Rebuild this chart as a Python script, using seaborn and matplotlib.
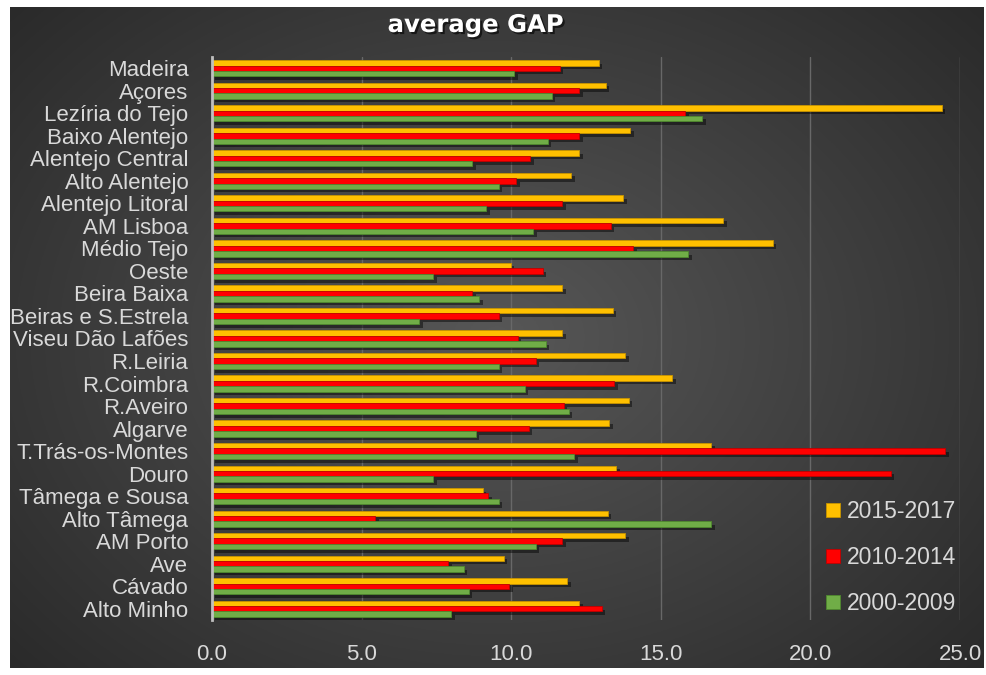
import numpy as np
import pandas as pd
import matplotlib
matplotlib.use("Agg")
import matplotlib.pyplot as plt
import matplotlib.patheffects as pe
from matplotlib.patches import Patch
import seaborn as sns

regions = ["Madeira", "Açores", "Lezíria do Tejo", "Baixo Alentejo", "Alentejo Central",
           "Alto Alentejo", "Alentejo Litoral", "AM Lisboa", "Médio Tejo", "Oeste",
           "Beira Baixa", "Beiras e S.Estrela", "Viseu Dão Lafões", "R.Leiria", "R.Coimbra",
           "R.Aveiro", "Algarve", "T.Trás-os-Montes", "Douro", "Tâmega e Sousa",
           "Alto Tâmega", "AM Porto", "Ave", "Cávado", "Alto Minho"]
gap_2015_2017 = [12.93, 13.16, 24.39, 13.98, 12.28, 12.00, 13.74, 17.09, 18.75, 9.98,
                 11.70, 13.39, 11.70, 13.81, 15.39, 13.93, 13.28, 16.69, 13.51, 9.05,
                 13.23, 13.81, 9.75, 11.88, 12.28]
gap_2010_2014 = [11.63, 12.28, 15.81, 12.28, 10.63, 10.17, 11.70, 13.33, 14.08, 11.05,
                 8.70, 9.58, 10.22, 10.82, 13.44, 11.75, 10.58, 24.51, 22.68, 9.23,
                 5.46, 11.70, 7.89, 9.93, 13.03]
gap_2000_2009 = [10.10, 11.35, 16.39, 11.23, 8.70, 9.58, 9.17, 10.73, 15.92, 7.40,
                 8.94, 6.92, 11.16, 9.58, 10.45, 11.93, 8.82, 12.11, 7.40, 9.58,
                 16.69, 10.82, 8.42, 8.59, 8.00]
periods = ["2015-2017", "2010-2014", "2000-2009"]
colors = ["#FFC000", "#FF0000", "#70AD47"]
edges = ["#C89400", "#C00000", "#4F8A2E"]
xticks = [0, 5, 10, 15, 20, 25]

df = pd.DataFrame({
    "region": regions * 3,
    "period": [periods[0]] * len(regions) + [periods[1]] * len(regions) + [periods[2]] * len(regions),
    "gap": gap_2015_2017 + gap_2010_2014 + gap_2000_2009,
})

sns.set_theme(style="white")
FONT = ["Liberation Sans Narrow", "Liberation Sans", "DejaVu Sans"]
plt.rcParams["font.family"] = FONT
txt = "#D9D9D9"

fig = plt.figure(figsize=(9.86, 6.75), dpi=100)
fig.patch.set_facecolor("white")

# background radial gradient
bg = fig.add_axes([10 / 986, 7 / 675, 974 / 986, 661 / 675], zorder=-10)
yy, xx = np.mgrid[-1:1:400j, -1:1:600j]
r = np.sqrt((xx * 1.0) ** 2 + (yy * 0.9) ** 2)
g = np.clip(r / 1.35, 0, 1)
c0 = np.array([0x57, 0x57, 0x57]) / 255
c1 = np.array([0x2A, 0x2A, 0x2A]) / 255
img = c0[None, None, :] * (1 - g[..., None]) + c1[None, None, :] * g[..., None]
bg.imshow(img, aspect="auto", extent=[0, 1, 0, 1])
bg.axis("off")

ax = fig.add_axes([212 / 986, 1 - 620 / 675, (960 - 212) / 986, (620 - 57) / 675])
ax.patch.set_alpha(0)

sns.barplot(data=df, y="region", x="gap", hue="period", hue_order=periods,
            order=regions, palette=colors, orient="h", width=0.72, ax=ax,
            legend=False, saturation=1)

shadow = [pe.SimplePatchShadow(offset=(2.5, -2.5), shadow_rgbFace="black", alpha=0.45), pe.Normal()]
for cont, ec in zip(ax.containers, edges):
    for p in cont:
        p.set_edgecolor(ec)
        p.set_linewidth(0.6)
        p.set_path_effects(shadow)

ax.set_xlim(0, 25)
ax.set_ylim(len(regions) - 0.5, -0.5)
ax.set_xticks(xticks)
ax.set_xticklabels([f"{v:.1f}" for v in xticks])
ax.set_xlabel("")
ax.set_ylabel("")
ax.grid(axis="x", color="#686868", linewidth=1.0)
ax.set_axisbelow(True)
for s in ["top", "right", "bottom"]:
    ax.spines[s].set_visible(False)
ax.spines["left"].set_color("#BFBFBF")
ax.spines["left"].set_linewidth(2)
ax.tick_params(axis="y", length=0, pad=17, labelsize=16, labelcolor=txt)
ax.tick_params(axis="x", length=0, pad=17, labelsize=16, labelcolor=txt)

handles = [Patch(facecolor=c, edgecolor=e, linewidth=0.6) for c, e in zip(colors, edges)]
leg = ax.legend(handles, periods, loc="upper left", bbox_to_anchor=((817 - 212) / 748, (620 - 491) / 563),
                frameon=False, fontsize=16.5, labelcolor=txt, handlelength=0.6, handleheight=0.6,
                handletextpad=0.3, labelspacing=1.0, borderaxespad=0)

fig.text(0.482, 0.963, "average GAP", ha="center", va="center", fontsize=17.5, fontweight="bold",
         color="white", family=["DejaVu Sans"],
         path_effects=[pe.withSimplePatchShadow(offset=(1.5, -1.5), shadow_rgbFace="black", alpha=0.6)])

fig.savefig("out.png", dpi=100)
